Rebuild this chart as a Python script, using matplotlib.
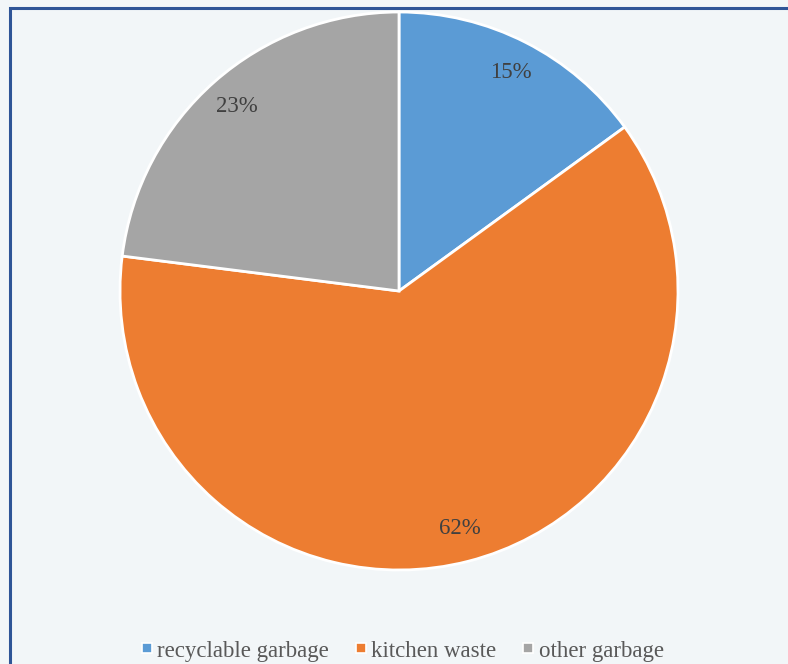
import matplotlib.pyplot as plt
from matplotlib.patches import Rectangle
from matplotlib.lines import Line2D

# data
labels = ['recyclable garbage', 'kitchen waste', 'other garbage']
values = [15, 62, 23]
colors = ['#5B9BD5', '#ED7D31', '#A5A5A5']

plt.rcParams['font.family'] = ['Liberation Serif', 'DejaVu Serif']

fig = plt.figure(figsize=(7.88, 6.64), dpi=100, facecolor='#F2F6F8')

# pie area
ax = fig.add_axes([(399 - 279) / 788, (664 - 291 - 279) / 664, 558 / 788, 558 / 664])
wedges, texts, autotexts = ax.pie(values, colors=colors, startangle=90, counterclock=False,
                                  autopct='%1.0f%%', pctdistance=0.88,
                                  wedgeprops=dict(edgecolor='white', linewidth=2),
                                  textprops=dict(fontsize=16.5, color='#404040'))
ax.set_aspect('equal')
ax.set_xlim(-1, 1)
ax.set_ylim(-1, 1)

# border of the chart frame (cut off right / bottom)
fig.add_artist(Rectangle((9.5 / 788, -0.2), 1.2, 1 - 7.5 / 664 + 0.2,
                         transform=fig.transFigure, fill=False,
                         edgecolor='#2F5597', linewidth=2.2))

# legend
handles = [Line2D([], [], marker='s', linestyle='none', markersize=7,
                  markerfacecolor=c, markeredgecolor='white', markeredgewidth=1.2)
           for c in colors]
fig.legend(handles, labels, loc='center', bbox_to_anchor=(401 / 788, 1 - 651 / 664),
           ncol=3, frameon=False, fontsize=16.5, labelcolor='#595959',
           handletextpad=0.1, columnspacing=1.05, handlelength=0.7)

fig.savefig('out.png', dpi=100, facecolor=fig.get_facecolor())
